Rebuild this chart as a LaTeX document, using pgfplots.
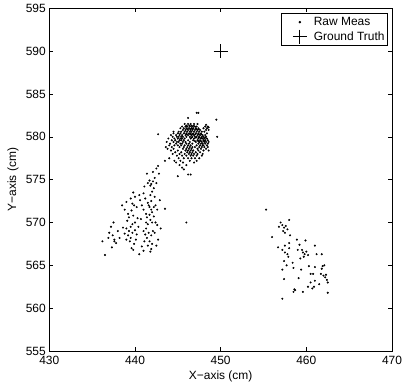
\documentclass[border=0pt]{standalone}
\usepackage{pgfplots}
\usepackage{pgfplotstable}
\pgfplotsset{compat=1.18}
\usepackage{fontspec}
\setmainfont{Liberation Sans}
\pgfplotstableread{
x y
455.3 571.5
456.0 568.3
456.8 569.5
457.0 570.0
457.2 569.7
457.4 569.4
457.6 569.6
457.8 569.2
457.3 569.0
457.5 568.8
458.0 570.3
458.1 568.5
458.0 567.6
456.7 567.1
457.2 566.8
457.5 566.5
457.8 566.3
457.9 566.0
457.4 565.5
457.7 565.0
457.2 564.5
457.4 563.4
457.2 561.1
457.5 567.3
458.0 567.0
458.4 565.3
458.5 564.7
458.6 562.2
458.5 561.9
458.7 562.1
458.9 568.0
459.2 567.4
459.0 566.8
459.5 566.8
459.6 566.5
459.8 566.3
460.0 566.6
459.7 566.0
460.2 566.2
459.9 567.9
459.3 565.8
460.3 564.9
459.4 564.5
459.1 563.5
459.6 561.9
460.2 562.5
460.5 563.0
460.7 562.3
460.9 562.5
461.0 563.2
461.2 566.3
461.0 567.3
461.0 564.8
460.5 564.0
461.5 562.8
461.8 566.3
461.8 564.6
462.1 565.0
462.0 563.8
462.2 563.6
462.4 563.3
462.5 563.0
462.3 563.9
461.7 564.0
462.5 561.8
461.9 564.9
460.8 564.0
446.0 570.0
443.5 571.6
442.7 580.3
449.5 582.0
449.6 580.0
447.2 582.8
447.4 582.8
436.2 567.8
436.5 566.2
437.0 568.8
437.2 569.5
437.4 568.5
437.5 570.0
437.6 568.0
437.8 567.6
437.3 567.1
438.0 569.0
438.2 568.2
437.6 567.8
436.9 568.2
438.5 572.0
438.8 571.5
439.0 572.4
439.2 571.0
439.5 572.8
439.8 573.5
440.0 573.0
439.9 572.0
439.6 571.4
439.8 570.8
440.2 571.8
440.0 570.0
439.7 569.8
439.5 569.5
439.3 569.0
439.0 569.3
438.8 568.7
439.2 568.5
439.5 568.2
439.7 568.8
440.0 569.1
440.2 568.6
439.4 567.8
439.9 567.5
440.1 568.0
439.6 567.0
440.4 569.5
439.1 570.2
438.6 569.4
439.0 568.0
440.5 566.3
440.8 567.2
439.8 566.8
440.3 570.5
440.6 572.6
440.5 573.2
439.3 570.6
439.7 572.2
441.2 572.8
441.0 571.5
441.3 571.0
441.5 572.3
441.7 571.8
441.9 572.5
442.0 571.2
442.2 570.7
441.8 570.3
441.5 569.8
441.3 569.3
441.6 568.8
441.9 568.5
442.1 569.0
441.4 568.2
441.7 567.8
441.2 568.6
442.3 568.8
441.5 567.3
441.8 566.6
442.0 567.5
441.1 567.8
441.4 570.6
442.4 572.0
442.6 571.5
442.3 573.0
442.0 573.6
441.8 574.3
441.5 574.6
441.7 574.9
441.9 574.5
442.1 574.8
442.3 575.2
442.5 574.6
442.2 574.0
441.4 575.7
442.1 575.9
442.5 576.3
442.7 576.6
442.8 575.7
441.0 573.4
441.1 574.2
440.8 572.0
440.7 570.4
441.0 569.0
442.4 570.0
442.6 569.7
442.2 571.8
442.9 572.6
443.0 569.3
442.7 568.0
441.9 566.9
441.0 566.7
442.5 567.3
441.6 572.0
441.8 573.2
442.0 570.0
441.3 570.0
441.7 570.9
441.9 571.5
445.8 581.5
446.2 581.5
446.5 581.5
446.9 581.5
447.3 581.5
445.5 581.2
445.9 581.2
446.1 581.2
446.4 581.2
446.7 581.2
447.0 581.2
447.2 581.2
448.2 581.2
448.5 581.2
445.3 581.0
445.7 581.0
446.0 581.0
446.3 581.0
446.6 581.0
446.8 581.0
447.1 581.0
447.4 581.0
448.0 581.0
448.4 581.0
445.6 580.8
445.9 580.8
446.2 580.8
446.5 580.8
446.7 580.8
447.0 580.8
447.3 580.8
447.6 580.8
448.3 580.8
448.6 580.8
445.1 580.6
445.4 580.6
445.8 580.6
446.1 580.6
446.4 580.6
446.6 580.6
446.9 580.6
447.2 580.6
447.5 580.6
447.8 580.6
448.1 580.6
444.5 580.4
445.0 580.4
445.3 580.4
445.7 580.4
446.0 580.4
446.3 580.4
446.5 580.4
446.8 580.4
447.1 580.4
447.4 580.4
447.7 580.4
448.4 580.4
444.2 580.2
444.8 580.2
445.2 580.2
445.5 580.2
445.9 580.2
446.2 580.2
446.6 580.2
446.9 580.2
447.3 580.2
447.6 580.2
447.9 580.2
448.2 580.2
444.4 580.0
444.9 580.0
445.1 580.0
445.4 580.0
445.6 580.0
446.0 580.0
446.4 580.0
446.7 580.0
447.0 580.0
447.2 580.0
447.5 580.0
447.8 580.0
448.0 580.0
448.3 580.0
443.9 579.8
444.6 579.8
445.0 579.8
445.3 579.8
445.5 579.8
445.8 579.8
446.5 579.8
446.9 579.8
447.4 579.8
447.7 579.8
447.9 579.8
448.1 579.8
448.4 579.8
444.3 579.6
444.7 579.6
445.2 579.6
445.4 579.6
445.7 579.6
446.2 579.6
446.8 579.6
447.3 579.6
447.6 579.6
448.0 579.6
448.2 579.6
448.5 579.6
443.7 579.4
444.5 579.4
444.9 579.4
445.1 579.4
445.6 579.4
445.9 579.4
446.4 579.4
447.1 579.4
447.5 579.4
447.8 579.4
448.1 579.4
448.3 579.4
448.6 579.4
444.1 579.2
444.8 579.2
445.3 579.2
445.5 579.2
446.0 579.2
446.3 579.2
446.7 579.2
447.4 579.2
447.7 579.2
447.9 579.2
448.2 579.2
448.5 579.2
444.0 579.0
444.6 579.0
445.0 579.0
445.4 579.0
445.8 579.0
446.2 579.0
446.5 579.0
447.2 579.0
447.6 579.0
447.9 579.0
448.0 579.0
448.4 579.0
443.6 578.8
444.3 578.8
445.2 578.8
445.7 578.8
446.1 578.8
446.4 578.8
446.7 578.8
447.0 578.8
447.5 578.8
447.8 578.8
448.1 578.8
448.5 578.8
443.8 578.6
444.5 578.6
445.6 578.6
446.0 578.6
446.3 578.6
446.6 578.6
447.3 578.6
447.7 578.6
448.3 578.6
444.2 578.4
445.0 578.4
445.9 578.4
446.2 578.4
446.5 578.4
446.8 578.4
447.4 578.4
448.0 578.4
448.6 578.4
444.7 578.2
445.4 578.2
446.1 578.2
446.4 578.2
446.7 578.2
447.1 578.2
447.6 578.2
444.4 578.0
445.2 578.0
445.8 578.0
446.3 578.0
446.6 578.0
446.9 578.0
447.3 578.0
447.9 578.0
444.9 577.8
445.5 577.8
446.0 577.8
446.5 577.8
446.8 577.8
447.2 577.8
447.8 577.8
444.0 577.5
445.1 577.5
445.7 577.5
446.2 577.5
446.6 577.5
447.0 577.5
447.5 577.5
443.5 577.2
444.6 577.2
445.3 577.2
446.4 577.2
447.2 577.2
444.8 577.0
445.6 577.0
446.9 577.0
445.2 576.7
446.0 576.7
445.5 576.4
445.7 576.2
446.2 575.6
446.5 575.6
445.0 575.4
448.3 581.4
448.6 581.1
446.2 582.2
444.5 580.6
446.0 581.3
446.35 581.3
446.6 581.3
446.85 581.3
446.1 580.9
446.45 580.9
446.75 580.9
447.15 580.9
447.45 580.9
446.05 580.3
446.45 580.3
446.75 580.3
447.05 580.3
447.45 580.3
447.75 580.3
446.6 579.9
447.1 579.9
447.45 579.9
447.75 579.9
448.2 579.9
447.0 579.5
447.4 579.5
447.7 579.5
448.05 579.5
}\rawmeas
\begin{document}
\begin{tikzpicture}
\begin{axis}[
  at={(0,0)}, anchor=south west,
  scale only axis, width=342.7bp, height=342.7bp,
  xmin=430, xmax=470, ymin=555, ymax=595,
  xtick={430,440,...,470}, ytick={555,560,...,595},
  tick align=inside, major tick length=4bp,
  axis line style={line width=0.8pt}, every tick/.style={black, line width=0.6pt},
  /pgf/number format/assume math mode=true,
  /pgf/number format/1000 sep={},
  tick label style={font=\fontsize{12}{14}\selectfont},
  xlabel={X\textminus axis (cm)}, ylabel={Y\textminus axis (cm)},
  xticklabel style={yshift=-2bp},
  every axis x label/.style={at={(axis description cs:0.5,-0.0744)}, anchor=center, font=\fontsize{12}{14}\selectfont},
  every axis y label/.style={at={(axis description cs:-0.106,0.5)}, rotate=90, anchor=center, font=\fontsize{12}{14}\selectfont},
  legend style={at={(rel axis cs:0.988,0.985)}, anchor=north east, draw=black, line width=0.8pt, font=\fontsize{12}{14}\selectfont, inner xsep=2pt, inner ysep=2pt, row sep=1pt, nodes={inner xsep=1pt, inner ysep=1.5pt}, cells={anchor=west}},
  legend cell align=left,
  legend image code/.code={\path[draw=none,fill=none] (0bp,0bp) -- (29bp,0bp); \draw[#1] plot coordinates {(16bp,0bp)};},
]
\addplot[only marks, mark=*, mark size=0.8pt, black] table {\rawmeas};
\addlegendentry{Raw Meas}
\addplot[only marks, mark=+, mark size=7bp, black, mark options={line width=1pt}] coordinates {(450,590)};
\addlegendentry{Ground Truth}
\end{axis}
\pgfresetboundingbox
\path (-49.3bp,-36bp) rectangle (353.7bp,351bp);
\end{tikzpicture}
\end{document}
